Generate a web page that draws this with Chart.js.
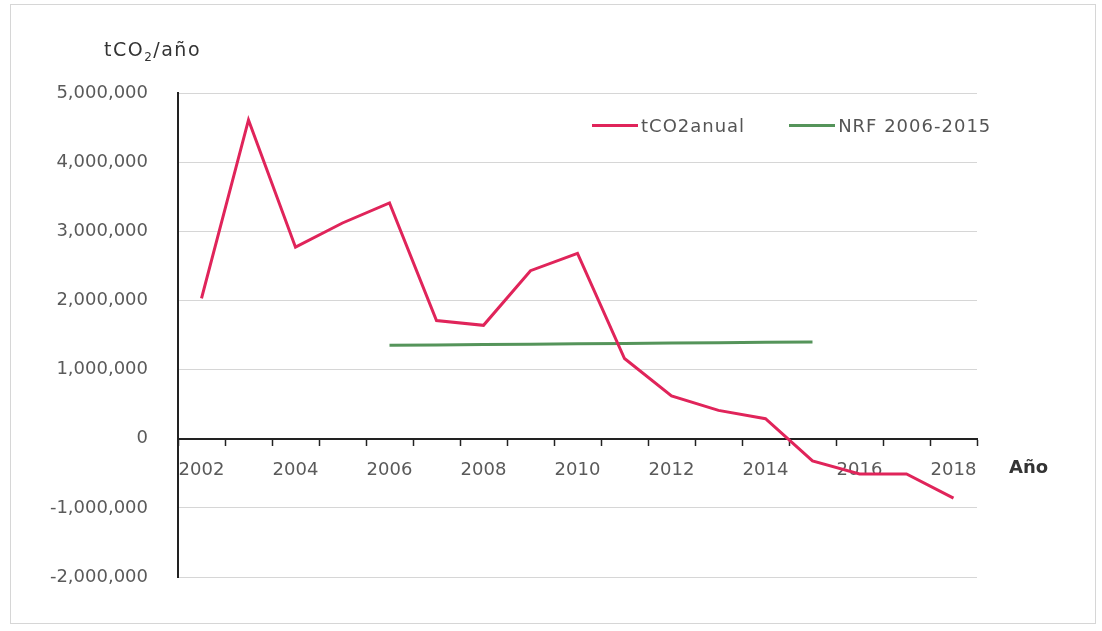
<!DOCTYPE html>
<html>
<head>
<meta charset="utf-8">
<script src="https://cdn.jsdelivr.net/npm/chart.js@4.4.1/dist/chart.umd.min.js"></script>
<style>
  body { margin: 0; background: #fff; font-family: "DejaVu Sans", sans-serif; }
  #wrap { position: relative; width: 1102px; height: 631px; }
  #frame { position: absolute; left: 10px; top: 4px; width: 1086px; height: 620px; border: 1px solid #d6d6d6; box-sizing: border-box; }
  .lbl { position: absolute; color: #333; font-size: 18px; white-space: nowrap; }
  #legend { position: absolute; left: 592px; top: 115px; display: flex; gap: 44px; font-size: 18px; letter-spacing: 1px; color: #555; }
  #legend span.item { display: flex; align-items: center; }
  #legend span.sw { display: inline-block; width: 46px; height: 3px; margin-right: 3px; }
</style>
</head>
<body>
<div id="wrap">
  <div id="frame"></div>
  <canvas id="co2Chart" width="1102" height="631"></canvas>
  <div class="lbl" style="left:104px; top:38px; font-size:19px; letter-spacing:1.5px;">tCO<sub style="font-size:12px">2</sub>/año</div>
  <div class="lbl" style="left:1009px; top:456px; font-weight:bold;">Año</div>
  <div id="legend"></div>
</div>
<script>
// datos
const anios = ["2002", "2003", "2004", "2005", "2006", "2007", "2008", "2009", "2010",
  "2011", "2012", "2013", "2014", "2015", "2016", "2017", "2018"];
const tco2Anual = [2030000, 4610000, 2770000, 3120000, 3410000, 1710000, 1640000, 2430000, 2680000,
  1160000, 620000, 410000, 290000, -320000, -510000, -510000, -860000];
const nrf = [null, null, null, null, 1350000, 1356000, 1361000, 1367000, 1372000,
  1378000, 1383000, 1389000, 1394000, 1400000, null, null, null];
const yTicks = [-2000000, -1000000, 0, 1000000, 2000000, 3000000, 4000000, 5000000];

const ctx = document.getElementById("co2Chart").getContext("2d");
const chart = new Chart(ctx, {
  type: "line",
  data: {
    labels: anios,
    datasets: [
      {
        label: "tCO2anual",
        data: tco2Anual,
        borderColor: "#e0245a",
        borderWidth: 3,
        pointRadius: 0,
        tension: 0
      },
      {
        label: "NRF 2006-2015",
        data: nrf,
        borderColor: "#55945a",
        borderWidth: 3,
        pointRadius: 0,
        tension: 0
      }
    ]
  },
  options: {
    responsive: false,
    animation: false,
    layout: { padding: { top: 93, bottom: 54, left: 0, right: 125 } },
    plugins: {
      legend: { display: false },
      tooltip: { enabled: false }
    },
    scales: {
      x: {
        position: { y: 0 },
        offset: true,
        border: { color: "#222", width: 2 },
        grid: { offset: true, drawOnChartArea: false, drawTicks: true, tickLength: 6, tickWidth: 1.5, color: "#222" },
        ticks: {
          autoSkip: false,
          maxRotation: 0,
          padding: 15,
          color: "#5a5a5a",
          font: { family: "DejaVu Sans", size: 18 },
          callback: (v, i) => (i % 2 === 0 ? anios[i] : "")
        }
      },
      y: {
        min: yTicks[0],
        max: yTicks[yTicks.length - 1],
        afterBuildTicks: scale => { scale.ticks = yTicks.map(v => ({ value: v })); },
        afterFit: scale => { scale.width = 178; },
        border: { color: "#222", width: 2 },
        grid: { color: "#d6d6d6", drawTicks: false },
        ticks: {
          padding: 30,
          color: "#5a5a5a",
          font: { family: "DejaVu Sans", size: 18 },
          callback: v => v.toLocaleString("en-US")
        }
      }
    }
  }
});

// leyenda arriba a la derecha
const legend = document.getElementById("legend");
chart.data.datasets.forEach(ds => {
  const item = document.createElement("span");
  item.className = "item";
  item.innerHTML = '<span class="sw" style="background:' + ds.borderColor + '"></span>' + ds.label;
  legend.appendChild(item);
});
</script>
</body>
</html>
